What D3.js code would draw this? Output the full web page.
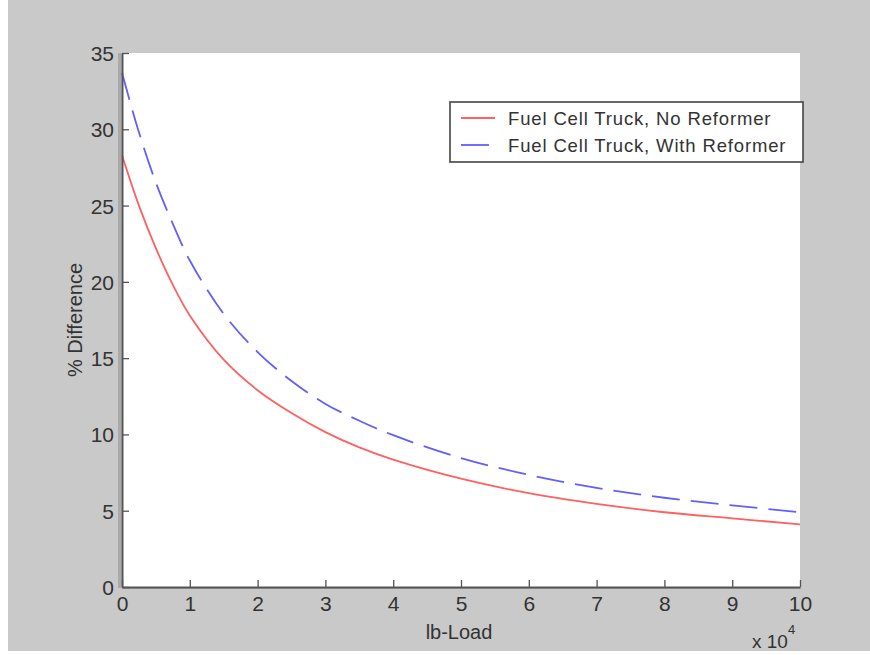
<!DOCTYPE html>
<html>
<head>
<meta charset="utf-8">
<script src="https://cdn.jsdelivr.net/npm/d3@7"></script>
<style>
  html, body { margin: 0; padding: 0; background: #fff; }
  svg { display: block; }
  text { font-family: "Liberation Sans", Arial, Helvetica, sans-serif; fill: #333; }
</style>
</head>
<body>
<svg id="chart" width="870" height="655"></svg>
<script>
// ---- data (x in units of 10^4 lb) ----
const loadX = [0, 0.25, 0.5, 0.75, 1, 1.5, 2, 2.5, 3, 3.5, 4, 5, 6, 7, 8, 9, 10];
const noReformer = [28.3, 25.0, 22.2, 19.8, 17.8, 14.9, 12.9, 11.4, 10.15, 9.15, 8.35, 7.1, 6.15, 5.45, 4.9, 4.5, 4.1];
const withReformer = [33.7, 29.8, 26.5, 23.8, 21.4, 17.9, 15.4, 13.5, 12.0, 10.9, 9.95, 8.45, 7.35, 6.5, 5.85, 5.35, 4.9];
const xTicks = [0, 1, 2, 3, 4, 5, 6, 7, 8, 9, 10];
const yTicks = [0, 5, 10, 15, 20, 25, 30, 35];
const seriesNames = ["Fuel Cell Truck, No Reformer", "Fuel Cell Truck, With Reformer"];
const xLabel = "lb-Load";
const yLabel = "% Difference";

const svg = d3.select("#chart");
const W = 870, H = 655;
const plot = { left: 122, right: 800, top: 53, bottom: 587 };

// background
svg.append("rect").attr("x", 8).attr("y", 0).attr("width", W - 8).attr("height", 651).attr("fill", "#c9c9c9");

const x = d3.scaleLinear().domain([0, 10]).range([plot.left, plot.right]);
const y = d3.scaleLinear().domain([0, 35]).range([plot.bottom, plot.top]);

// plot area
svg.append("rect").attr("x", plot.left).attr("y", plot.top)
  .attr("width", plot.right - plot.left).attr("height", plot.bottom - plot.top).attr("fill", "#fff");

// curves
const line = d3.line().x(d => x(d[0])).y(d => y(d[1])).curve(d3.curveCatmullRom.alpha(0.5));
const redData = loadX.map((v, i) => [v, noReformer[i]]);
const blueData = loadX.map((v, i) => [v, withReformer[i]]);

svg.append("path").datum(redData).attr("d", line)
  .attr("fill", "none").attr("stroke", "#ff6060").attr("stroke-width", 1.8);
svg.append("path").datum(blueData).attr("d", line)
  .attr("fill", "none").attr("stroke", "#6060ff").attr("stroke-width", 1.8)
  .attr("stroke-dasharray", "28,11");

// axes (MATLAB style: inward ticks, left & bottom only)
const xAxis = d3.axisBottom(x).tickValues(xTicks).tickSizeInner(-7).tickSizeOuter(0).tickPadding(9).tickFormat(d3.format("d"));
const yAxis = d3.axisLeft(y).tickValues(yTicks).tickSizeInner(-7).tickSizeOuter(0).tickPadding(8).tickFormat(d3.format("d"));

// shade left of / under the axis lines
svg.append("rect").attr("x", plot.left - 4).attr("y", plot.top).attr("width", 3).attr("height", plot.bottom - plot.top + 1).attr("fill", "#aaa");
svg.append("rect").attr("x", plot.left).attr("y", plot.bottom + 1).attr("width", plot.right - plot.left + 1).attr("height", 1).attr("fill", "#aaa");

const gx = svg.append("g").attr("transform", `translate(0,${plot.bottom})`).call(xAxis);
const gy = svg.append("g").attr("transform", `translate(${plot.left},0)`).call(yAxis);
[gx, gy].forEach(g => {
  g.select(".domain").attr("stroke", "#555").attr("stroke-width", 2);
  g.selectAll(".tick line").attr("stroke", "#555").attr("stroke-width", 1.3);
  g.selectAll(".tick text").attr("fill", "#333").style("font-size", "21px")
    .style("font-family", '"Liberation Sans", Arial, sans-serif');
});
gy.selectAll(".tick text").attr("dy", "0.36em");

// axis labels
svg.append("text").attr("x", 459).attr("y", 639).attr("text-anchor", "middle")
  .style("font-size", "20px").text(xLabel);
svg.append("text").attr("transform", "translate(82,320) rotate(-90)").attr("text-anchor", "middle")
  .style("font-size", "20px").text(yLabel);

// exponent
const ex = svg.append("text").attr("x", 752).attr("y", 648).style("font-size", "19px");
ex.append("tspan").text("x 10");
ex.append("tspan").attr("dy", -14).style("font-size", "13px").text("4");

// legend
const lg = svg.append("g");
lg.append("rect").attr("x", 450).attr("y", 102).attr("width", 353).attr("height", 60)
  .attr("fill", "#fff").attr("stroke", "#444").attr("stroke-width", 1.6);
const legendRows = [
  { name: seriesNames[0], color: "#ff6060", dash: null, y: 118 },
  { name: seriesNames[1], color: "#6060ff", dash: "28,11", y: 145 }
];
legendRows.forEach(r => {
  lg.append("line").attr("x1", 461).attr("x2", 495).attr("y1", r.y).attr("y2", r.y)
    .attr("stroke", r.color).attr("stroke-width", 1.8).attr("stroke-dasharray", r.dash);
  lg.append("text").attr("x", 508).attr("y", r.y + 6.5)
    .style("font-size", "18.5px").style("letter-spacing", "0.85px").text(r.name);
});
</script>
</body>
</html>
